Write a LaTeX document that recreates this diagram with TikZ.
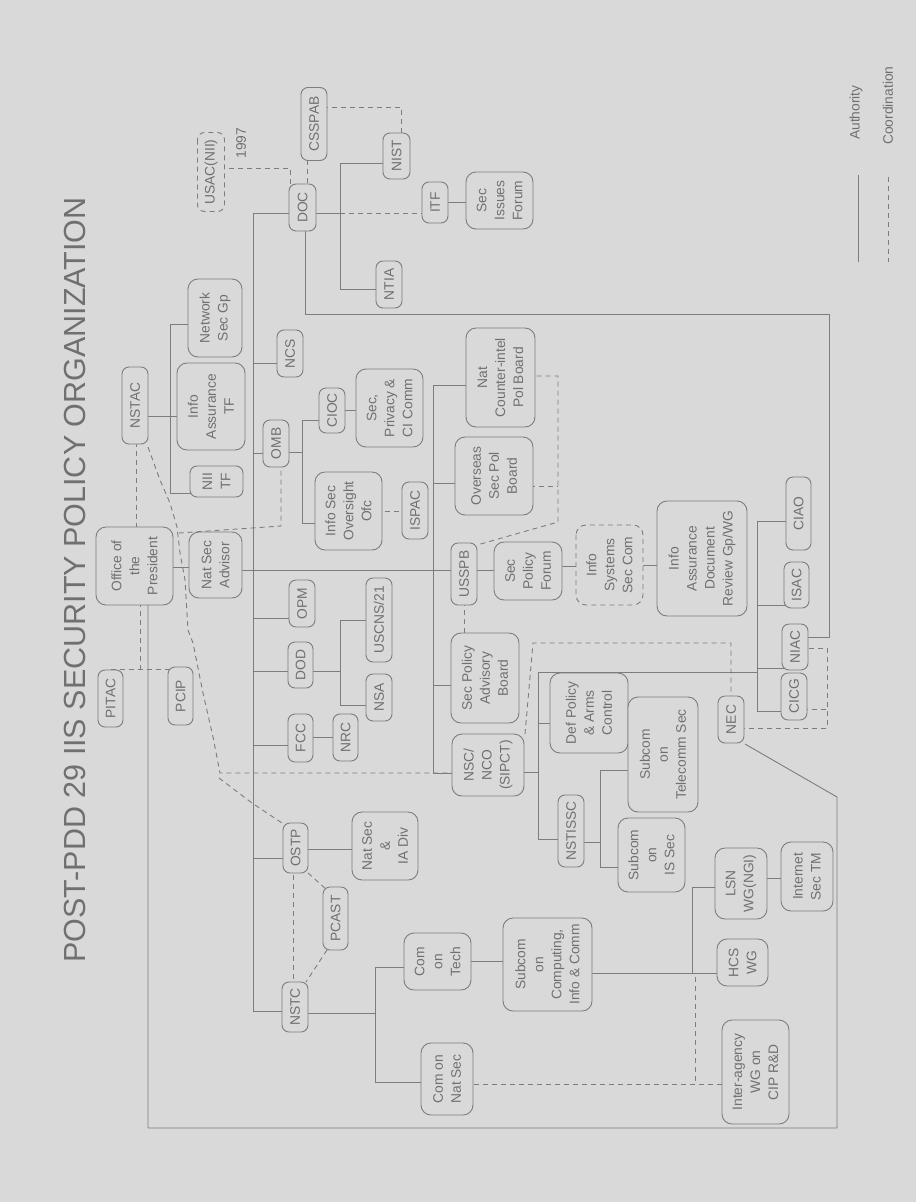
\documentclass[tikz,border=0pt]{standalone}
\usepackage{fontspec}
\setmainfont{Liberation Sans}
\pgfdeclarelayer{paper}
\pgfdeclarelayer{lines}
\pgfsetlayers{paper,lines,main}
\definecolor{bgc}{RGB}{217,217,217}
\definecolor{lnc}{RGB}{125,125,125}
\definecolor{txc}{RGB}{112,112,112}
\newcommand\boxfont{\fontsize{13.8}{18}\selectfont}
\newcommand\titlefont{\fontsize{30.5}{36}\selectfont}
\tikzset{
  box/.style={draw=lnc, line width=0.9pt, rounded corners=7pt, fill=bgc, rotate=90, font=\boxfont, text=txc, align=center, inner sep=0pt},
  bigbox/.style={box, rounded corners=10pt},
  dbox/.style={box, dash pattern=on 5pt off 4pt},
  dbigbox/.style={bigbox, dash pattern=on 5pt off 4pt},
  lbl/.style={rotate=90, font=\boxfont, text=txc, inner sep=0pt},
  conn/.style={draw=lnc, line width=0.9pt},
  dconn/.style={conn, dash pattern=on 5pt off 4pt},
}
\begin{document}
\begin{tikzpicture}[x=1pt,y=-1pt]
\useasboundingbox (0,0) rectangle (916,1202);
\begin{pgfonlayer}{paper}
\fill[bgc] (0,0) rectangle (916,1202);
\end{pgfonlayer}

% title
\node[rotate=90, font=\titlefont, text=txc, inner sep=0pt] (title) at (75,580) {POST-PDD 29 IIS SECURITY POLICY ORGANIZATION};

% legend
\node[lbl, anchor=west] (authl) at (856,140) {Authority};
\node[lbl, anchor=west] (coordl) at (888,145) {Coordination};
\coordinate (la1) at (858,175); \coordinate (la2) at (858,262);
\coordinate (lc1) at (888,177); \coordinate (lc2) at (888,262);

% nodes
\node[dbox, minimum width=79pt, minimum height=27pt] (usac) at (211,172) {USAC(NII)};
\node[lbl] (y1997) at (241,143) {1997};
\node[box, minimum width=73pt, minimum height=26pt] (csspab) at (314,124) {CSSPAB};
\node[box, minimum width=47pt, minimum height=27pt] (doc) at (302.5,207.5) {DOC};
\node[box, minimum width=46pt, minimum height=27pt] (nist) at (396.5,156) {NIST};
\node[box, minimum width=41pt, minimum height=26pt] (itf) at (435,202.5) {ITF};
\node[bigbox, minimum width=57pt, minimum height=67pt] (secissues) at (499.5,200.5) {Sec\\Issues\\Forum};
\node[box, minimum width=47pt, minimum height=26pt] (ntia) at (389,284.5) {NTIA};
\node[bigbox, minimum width=78pt, minimum height=54pt] (netsec) at (215,318) {Network\\Sec Gp};
\node[box, minimum width=47pt, minimum height=26pt] (ncs) at (290,353.5) {NCS};
\node[box, minimum width=77pt, minimum height=26pt] (nstac) at (135,405.5) {NSTAC};
\node[bigbox, minimum width=87pt, minimum height=68pt] (iatf) at (211,406.5) {Info\\Assurance\\TF};
\node[box, minimum width=31pt, minimum height=53pt] (niitf) at (216.5,481.5) {NII\\TF};
\node[box, minimum width=47pt, minimum height=26pt] (omb) at (276,443.5) {OMB};
\node[box, minimum width=45pt, minimum height=26pt] (cioc) at (332,410.5) {CIOC};
\node[bigbox, minimum width=78pt, minimum height=67pt] (secpriv) at (389.5,408) {Sec,\\Privacy \&\\CI Comm};
\node[bigbox, minimum width=78pt, minimum height=67pt] (isoo) at (348.5,511) {Info Sec\\Oversight\\Ofc};
\node[box, minimum width=57pt, minimum height=26pt] (ispac) at (415,510.5) {ISPAC};
\node[bigbox, minimum width=78pt, minimum height=78pt] (overseas) at (494,476) {Overseas\\Sec Pol\\Board};
\node[bigbox, minimum width=99pt, minimum height=69pt] (ncipb) at (500.5,377.5) {Nat\\Counter-intel\\Pol Board};
\node[bigbox, minimum width=78pt, minimum height=77pt] (president) at (134.5,566) {Office of\\the\\President};
\node[bigbox, minimum width=66pt, minimum height=53pt] (natsecadv) at (215.5,565) {Nat Sec\\Advisor};
\node[box, minimum width=62pt, minimum height=26pt] (usspb) at (464,574) {USSPB};
\node[bigbox, minimum width=58pt, minimum height=68pt] (spforum) at (528,571) {Sec\\Policy\\Forum};
\node[dbigbox, minimum width=80pt, minimum height=67pt] (issc) at (609.5,565) {Info\\Systems\\Sec Com};
\node[bigbox, minimum width=115pt, minimum height=90pt] (iadrg) at (702,558.5) {Info\\Assurance\\Document\\Review Gp/WG};
\node[box, minimum width=73pt, minimum height=25pt] (ciao) at (798.5,513.5) {CIAO};
\node[box, minimum width=46pt, minimum height=25pt] (isac) at (796.5,585) {ISAC};
\node[box, minimum width=46pt, minimum height=26pt] (niac) at (795,647) {NIAC};
\node[box, minimum width=47pt, minimum height=26pt] (cicg) at (794,696.5) {CICG};
\node[box, minimum width=57pt, minimum height=25pt] (pitac) at (110.5,698.5) {PITAC};
\node[box, minimum width=58pt, minimum height=25pt] (pcip) at (180.5,696) {PCIP};
\node[box, minimum width=47pt, minimum height=26pt] (opm) at (302,603.5) {OPM};
\node[box, minimum width=46pt, minimum height=25pt] (dod) at (300.5,665) {DOD};
\node[box, minimum width=48pt, minimum height=25pt] (fcc) at (300.5,738) {FCC};
\node[box, minimum width=47pt, minimum height=25pt] (nrc) at (345.5,737.5) {NRC};
\node[box, minimum width=84pt, minimum height=26pt] (uscns) at (379,620) {USCNS/21};
\node[box, minimum width=47pt, minimum height=26pt] (nsa) at (379,697.5) {NSA};
\node[bigbox, minimum width=90pt, minimum height=68pt] (spab) at (485,678) {Sec Policy\\Advisory\\Board};
\node[bigbox, minimum width=62pt, minimum height=72pt] (nscnco) at (488,765) {NSC/\\NCO\\(SIPCT)};
\node[bigbox, minimum width=80pt, minimum height=78pt] (defpol) at (589,713) {Def Policy\\\& Arms\\Control};
\node[bigbox, minimum width=115pt, minimum height=70pt] (telecomm) at (663,754.5) {Subcom\\on\\Telecomm Sec};
\node[box, minimum width=47pt, minimum height=26pt] (nec) at (731,719.5) {NEC};
\node[box, minimum width=72pt, minimum height=26pt] (nstissc) at (571,831) {NSTISSC};
\node[bigbox, minimum width=74pt, minimum height=67pt] (issec) at (651.5,855) {Subcom\\on\\IS Sec};
\node[box, minimum width=50pt, minimum height=25pt] (ostp) at (295.5,848) {OSTP};
\node[bigbox, minimum width=68pt, minimum height=66pt] (natsecia) at (385,846) {Nat Sec\\\&\\IA Div};
\node[box, minimum width=63pt, minimum height=25pt] (pcast) at (335.5,918.5) {PCAST};
\node[box, minimum width=50pt, minimum height=26pt] (nstc) at (295,1007) {NSTC};
\node[bigbox, minimum width=57pt, minimum height=67pt] (comtech) at (437.5,961.5) {Com\\on\\Tech};
\node[bigbox, minimum width=72pt, minimum height=52pt] (comnatsec) at (447,1079) {Com on\\Nat Sec};
\node[bigbox, minimum width=93pt, minimum height=89pt] (subcomp) at (547.5,964.5) {Subcom\\on\\Computing,\\Info \& Comm};
\node[bigbox, minimum width=71pt, minimum height=52pt] (lsn) at (741,883.5) {LSN\\WG(NGI)};
\node[bigbox, minimum width=69pt, minimum height=52pt] (internet) at (807,876.5) {Internet\\Sec TM};
\node[bigbox, minimum width=47pt, minimum height=51pt] (hcs) at (742.5,962.5) {HCS\\WG};
\node[bigbox, minimum width=104pt, minimum height=67pt] (interagency) at (755.5,1072) {Inter-agency\\WG on\\CIP R\&D};

\begin{pgfonlayer}{lines}
% legend lines
\draw[conn] (la1) -- (la2);
\draw[dconn] (lc1) -- (lc2);

% ---------- solid (authority) ----------
\coordinate (bA1) at (253,213); \coordinate (bA2) at (253,1011);
\draw[conn] (doc.center |- bA1) -- (bA1) -- (bA2) -- (nstc.center |- bA2);
\foreach \yy/\nn in {363/ncs,453/omb,618/opm,671/dod,745/fcc,858/ostp}
  \draw[conn] (253,\yy) -- (\nn.center |- 253,\yy);
\draw[conn] (natsecadv.center |- 0,570) -- (usspb.center |- 0,570);
\draw[conn] (usspb.center |- 0,570) -- (spforum.center |- 0,570);
\draw[conn] (spforum.center |- 0,566) -- (issc.center |- 0,566);
\draw[conn] (issc.center |- 0,565) -- (iadrg.center |- 0,565);
\draw[conn] (president.center |- 0,567) -- (natsecadv.center |- 0,567);
\coordinate (pr1) at (148,1128); \coordinate (pr2) at (837,1128); \coordinate (pr3) at (837,797); \coordinate (necc) at (745,744);
\draw[conn] (148,0 |- president.center) -- (pr1) -- (pr2) -- (pr3) -- (necc);
\coordinate (dn1) at (305,314); \coordinate (dn2) at (829,314); \coordinate (dn3) at (829,637);
\draw[conn] (305,0 |- doc.center) -- (dn1) -- (dn2) -- (dn3) -- (niac.center |- dn3);
\coordinate (bD) at (340,213);
\draw[conn] (doc.center |- bD) -- (bD);
\draw[conn] (nist.center |- 0,163) -- (340,163) -- (340,289) -- (ntia.center |- 0,289);
\draw[conn] (itf.center |- 0,202) -- (secissues.center |- 0,202);
\draw[conn] (nstac.center |- 0,416) -- (170,416);
\draw[conn] (netsec.center |- 0,324) -- (170,324) -- (170,493) -- (niitf.center |- 0,493);
\draw[conn] (170,416) -- (iatf.center |- 0,416);
\draw[conn] (omb.center |- 0,452) -- (302,452);
\draw[conn] (cioc.center |- 0,420) -- (302,420) -- (302,523) -- (isoo.center |- 0,523);
\draw[conn] (cioc.center |- 0,410) -- (secpriv.center |- 0,410);
\draw[conn] (dod.center |- 0,671) -- (340,671);
\draw[conn] (uscns.center |- 0,620) -- (340,620) -- (340,705) -- (nsa.center |- 0,705);
\draw[conn] (fcc.center |- 0,737) -- (nrc.center |- 0,737);
\draw[conn] (ostp.center |- 0,849) -- (natsecia.center |- 0,849);
\draw[conn] (nstc.center |- 0,1013) -- (375,1013);
\draw[conn] (comtech.center |- 0,967) -- (375,967) -- (375,1082) -- (comnatsec.center |- 0,1082);
\draw[conn] (comtech.center |- 0,961) -- (subcomp.center |- 0,961);
\draw[conn] (subcomp.center |- 0,973) -- (hcs.center |- 0,973);
\draw[conn] (lsn.center |- 0,887) -- (692,887) -- (692,973);
\draw[conn] (lsn.center |- 0,878) -- (internet.center |- 0,878);
\draw[conn] (ncipb.center |- 0,385) -- (433,385) -- (433,773) -- (nscnco.center |- 0,773);
\draw[conn] (433,483) -- (overseas.center |- 0,483);
\draw[conn] (433,685) -- (spab.center |- 0,685);
\draw[conn] (nscnco.center |- 0,772) -- (538,772);
\draw[conn] (757,672) -- (538,672) -- (538,839) -- (nstissc.center |- 0,839);
\draw[conn] (538,723) -- (defpol.center |- 0,723);
\draw[conn] (ciao.center |- 0,521) -- (757,521) -- (757,711) -- (cicg.center |- 0,711);
\draw[conn] (757,605) -- (isac.center |- 0,605);
\draw[conn] (757,668) -- (niac.center |- 0,668);
\draw[conn] (nstissc.center |- 0,842) -- (600,842);
\draw[conn] (telecomm.center |- 0,770) -- (600,770) -- (600,867) -- (issec.center |- 0,867);

% ---------- dashed (coordination) ----------
\draw[dconn] (usac.center |- 0,168) -- (290,168) -- (290,0 |- doc.center);
\draw[dconn] (307,0 |- csspab.center) -- (307,0 |- doc.center);
\draw[dconn] (csspab.center |- 0,107) -- (401,107) -- (401,0 |- nist.center);
\draw[dconn] (bD) -- (itf.center |- bD);
\draw[dconn] (136,0 |- nstac.center) -- (136,0 |- president.center);
\draw[dconn] (140,0 |- president.center) -- (140,669);
\draw[dconn] (pitac.center |- 0,669) -- (pcip.center |- 0,669);
\coordinate (cv1) at (148,447); \coordinate (cvj) at (220,773);
\draw[dconn] (cv1) -- (160,480) -- (170,503) -- (177,527) -- (180,553) -- (185,580) -- (188,630) -- (193,643) -- (203,693) -- (213,737) -- (cvj) -- (nscnco.center |- cvj);
\coordinate (os1) at (285,825);
\draw[dconn] (219,778) -- (252,803) -- (os1);
\draw[dconn] (281,0 |- omb.center) -- (281,526) -- (179,533);
\draw[dconn] (464,0 |- usspb.center) -- (464,0 |- spab.center);
\draw[dconn] (isoo.center |- 0,511) -- (ispac.center |- 0,511);
\coordinate (us1) at (477,545);
\draw[dconn] (ncipb.center |- 0,376) -- (558,376) -- (558,522) -- (us1);
\draw[dconn] (overseas.center |- 0,486) -- (558,486);
\coordinate (ns1) at (525,734);
\draw[dconn] (ns1) -- (533,643) -- (731,643) -- (731,0 |- nec.center);
\draw[dconn] (nec.center |- 0,728) -- (827,728) -- (827,648) -- (niac.center |- 0,648);
\draw[dconn] (cicg.center |- 0,709) -- (827,709);
\draw[dconn] (293,0 |- ostp.center) -- (293,0 |- nstc.center);
\coordinate (op1) at (308,873); \coordinate (op2) at (326,889);
\draw[dconn] (op1) -- (op2);
\coordinate (pn1) at (327,950); \coordinate (pn2) at (306,982);
\draw[dconn] (pn1) -- (pn2);
\draw[dconn] (comnatsec.center |- 0,1084) -- (interagency.center |- 0,1084);
\draw[dconn] (695,977) -- (695,1084);
\end{pgfonlayer}
\end{tikzpicture}
\end{document}
